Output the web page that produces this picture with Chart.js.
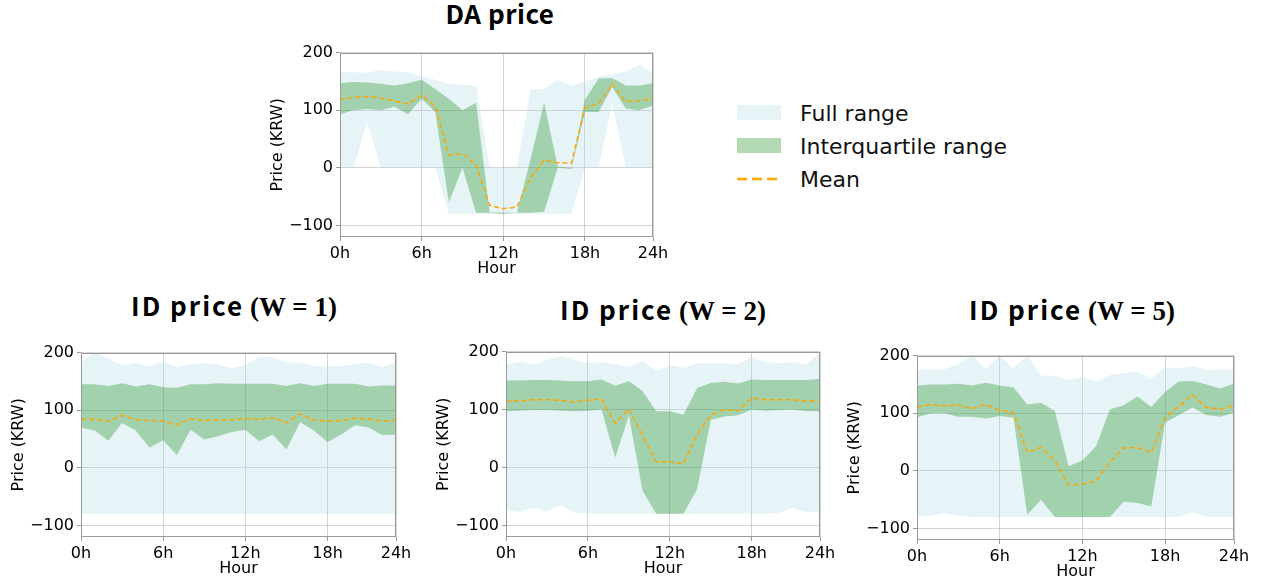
<!DOCTYPE html>
<html>
<head>
<meta charset="utf-8">
<script src="https://cdn.jsdelivr.net/npm/chart.js@4/dist/chart.umd.min.js"></script>
<style>
  body { margin: 0; background: #fff; width: 1262px; height: 583px; position: relative; overflow: hidden; font-family: 'DejaVu Sans'; }
  canvas { position: absolute; }
  .ttl { position: absolute; font-family: 'Noto Sans CJK KR'; font-weight: bold; line-height: 36px; white-space: nowrap; transform: translateX(-50%); color: #000; }
  .da { font-size: 26px; letter-spacing: 0.5px; }
  .id { font-size: 26px; }
  .id .s { letter-spacing: 2px; }
  .id .m { font-family: 'Liberation Serif'; font-weight: bold; font-size: 27px; }
  .patch { position: absolute; width: 44px; height: 15px; }
  .legtxt { position: absolute; font-size: 22px; line-height: 26px; color: #111; white-space: nowrap; }
</style>
</head>
<body>

<div class="ttl da" style="left:500px;top:-5px">DA price</div>
<div class="ttl id" style="left:234px;top:287px"><span class="s">ID price</span> <span class="m">(W = 1)</span></div>
<div class="ttl id" style="left:663px;top:291px"><span class="s">ID price</span> <span class="m">(W = 2)</span></div>
<div class="ttl id" style="left:1072px;top:291px"><span class="s">ID price</span> <span class="m">(W = 5)</span></div>

<div class="patch" style="left:737px;top:105px;background:rgba(173,216,230,0.3)"></div>
<div class="legtxt" style="left:800px;top:101px">Full range</div>
<div class="patch" style="left:737px;top:138px;background:rgba(0,128,0,0.3)"></div>
<div class="legtxt" style="left:800px;top:134px">Interquartile range</div>
<svg style="position:absolute;left:737px;top:172px" width="44" height="14">
  <line x1="0" y1="7" x2="44" y2="7" stroke="#ffa500" stroke-width="2.5" stroke-dasharray="10 5"></line>
</svg>
<div class="legtxt" style="left:800px;top:167px">Mean</div>

<canvas id="da" width="409" height="242" style="left:264px;top:40px"></canvas>
<canvas id="w1" width="411" height="242" style="left:5px;top:340px"></canvas>
<canvas id="w2" width="410" height="243" style="left:430px;top:339px"></canvas>
<canvas id="w5" width="413" height="242" style="left:841px;top:343px"></canvas>

<script>
const hours = [0,1,2,3,4,5,6,7,8,9,10,11,12,13,14,15,16,17,18,19,20,21,22,23];
const hourTicks = [0, 6, 12, 18, 23];
const hourLabels = ['0h', '6h', '12h', '18h', '24h'];
const priceTicks = [-100, 0, 100, 200];
const priceLabels = ['\u2212100', '0', '100', '200'];

// DA price
const daFullMax = [166,166,165,170,167,166,159,153,145,144,142,0,0,0,136,137,153,142,150,158,163,167,180,164];
const daFullMin = [0,0,80,0,0,0,0,0,-80,-80,-80,-80,-80,-80,-80,-80,-80,-80,0,0,112,0,0,0];
const daIqrHi = [147,149,148,146,143,147,153,137,120,100,113,-77,-78,-78,15,113,2,0,118,155,156,143,143,147];
const daIqrLo = [93,100,102,100,106,93,120,97,-60,0,-78,-78,-80,-78,-78,-76,0,-2,97,97,140,103,100,108];
const daMean = [119,122,124,121,116,111,126,107,22,25,5,-65,-71,-68,-17,13,9,8,104,112,146,115,116,121];

// ID price, W = 1
const w1FullMax = [183,200,190,178,183,175,185,175,180,182,180,173,178,192,192,183,183,177,176,177,180,183,175,183];
const w1FullMin = [-80,-80,-80,-80,-80,-80,-80,-80,-80,-80,-80,-80,-80,-80,-80,-80,-80,-80,-80,-80,-80,-80,-80,-80];
const w1IqrHi = [145,145,142,147,141,145,140,139,145,145,147,146,146,146,146,142,147,142,146,146,146,141,143,143];
const w1IqrLo = [70,65,47,78,65,35,48,22,66,49,55,62,66,46,58,32,79,65,45,58,74,70,57,58];
const w1Mean = [85,84,81,91,84,82,81,75,85,82,83,83,86,84,87,78,94,83,81,82,86,85,81,83];

// ID price, W = 2
const w2FullMax = [178,183,178,186,192,186,180,182,178,173,183,167,177,172,180,180,180,178,190,182,180,182,178,198];
const w2FullMin = [-73,-77,-70,-76,-65,-78,-80,-80,-80,-80,-80,-80,-80,-80,-80,-80,-80,-80,-80,-80,-78,-70,-77,-76];
const w2IqrHi = [150,150,151,151,150,149,149,152,141,149,132,97,97,91,137,146,148,145,152,151,151,151,151,153];
const w2IqrLo = [97,98,99,99,98,97,98,100,17,90,-40,-80,-80,-80,-37,82,88,90,100,98,99,100,97,97];
const w2Mean = [114,115,117,117,116,113,116,118,76,101,55,10,10,6,57,90,100,98,120,117,117,117,114,116];

// ID price, W = 5
const w5FullMax = [176,176,176,186,200,176,200,178,200,165,165,158,163,155,166,170,172,160,180,178,182,175,176,176];
const w5FullMin = [-80,-78,-73,-78,-80,-80,-80,-80,-80,-80,-80,-80,-80,-80,-80,-80,-80,-80,-80,-80,-72,-80,-80,-80];
const w5IqrHi = [148,150,150,151,148,153,148,145,115,118,104,8,18,43,107,114,129,111,137,155,156,150,143,151];
const w5IqrLo = [93,100,100,94,94,91,95,92,-76,-50,-80,-80,-80,-80,-80,-53,-56,-62,84,97,110,97,94,101];
const w5Mean = [111,115,113,114,108,115,105,101,32,41,18,-25,-23,-17,15,40,40,32,93,112,132,110,107,114];

const fullColor = 'rgba(173, 216, 230, 0.3)';
const iqrColor = 'rgba(0, 128, 0, 0.3)';
const meanColor = '#ffa500';
const gridColor = 'rgba(176, 176, 176, 0.55)';
const frameColor = '#9a9a9a';

// box around the plot area, like matplotlib spines
const frame = {
    id: 'frame',
    afterDatasetsDraw(chart) {
        const a = chart.chartArea;
        const ctx = chart.ctx;
        ctx.save();
        ctx.strokeStyle = frameColor;
        ctx.lineWidth = 1;
        ctx.strokeRect(Math.round(a.left) + 0.5, Math.round(a.top) + 0.5,
            Math.round(a.right - a.left) - 1, Math.round(a.bottom - a.top) - 1);
        ctx.restore();
    }
};

function band(data, color, order) {
    return { data: data, backgroundColor: color, borderWidth: 0, pointRadius: 0, fill: '+1', order: order };
}
function edge(data, order) {
    return { data: data, borderWidth: 0, pointRadius: 0, fill: false, order: order };
}

function makeChart(id, fullMax, fullMin, iqrHi, iqrLo, mean) {
    const ctx = document.getElementById(id).getContext('2d');
    return new Chart(ctx, {
        type: 'line',
        data: {
            labels: hours,
            datasets: [
                band(fullMax, fullColor, 3),
                edge(fullMin, 3),
                band(iqrHi, iqrColor, 2),
                edge(iqrLo, 2),
                {
                    data: mean,
                    borderColor: meanColor,
                    borderWidth: 1.5,
                    borderDash: [5, 3],
                    pointRadius: 0,
                    fill: false,
                    order: 1
                }
            ]
        },
        options: {
            responsive: false,
            animation: false,
            devicePixelRatio: 1,
            elements: { line: { tension: 0 } },
            layout: { padding: { top: 10, right: 20, left: 0, bottom: 0 } },
            plugins: { legend: { display: false }, tooltip: { enabled: false } },
            scales: {
                x: {
                    type: 'linear',
                    min: 0,
                    max: 23,
                    afterBuildTicks: (s) => { s.ticks = hourTicks.map(v => ({ value: v })); },
                    afterFit: (s) => { s.height = 45; },
                    ticks: {
                        color: '#000',
                        font: { family: 'DejaVu Sans', size: 16 },
                        padding: 3,
                        maxRotation: 0,
                        callback: (v) => hourLabels[hourTicks.indexOf(v)]
                    },
                    grid: { color: gridColor, tickColor: frameColor, tickLength: 4 },
                    border: { display: false },
                    title: { display: true, text: 'Hour', color: '#000', font: { family: 'DejaVu Sans', size: 16 }, padding: { top: 4, bottom: 4 } }
                },
                y: {
                    min: -120,
                    max: 200,
                    afterBuildTicks: (s) => { s.ticks = priceTicks.map(v => ({ value: v })); },
                    afterFit: (s) => { s.width = 76; },
                    ticks: {
                        color: '#000',
                        font: { family: 'DejaVu Sans', size: 16 },
                        padding: 3,
                        callback: (v) => priceLabels[priceTicks.indexOf(v)]
                    },
                    grid: { color: gridColor, tickColor: frameColor, tickLength: 4 },
                    border: { display: false },
                    title: { display: true, text: 'Price (KRW)', color: '#000', font: { family: 'DejaVu Sans', size: 16 }, padding: { top: 4, bottom: 4 } }
                }
            }
        },
        plugins: [frame]
    });
}

makeChart('da', daFullMax, daFullMin, daIqrHi, daIqrLo, daMean);
makeChart('w1', w1FullMax, w1FullMin, w1IqrHi, w1IqrLo, w1Mean);
makeChart('w2', w2FullMax, w2FullMin, w2IqrHi, w2IqrLo, w2Mean);
makeChart('w5', w5FullMax, w5FullMin, w5IqrHi, w5IqrLo, w5Mean);
</script>
</body>
</html>
